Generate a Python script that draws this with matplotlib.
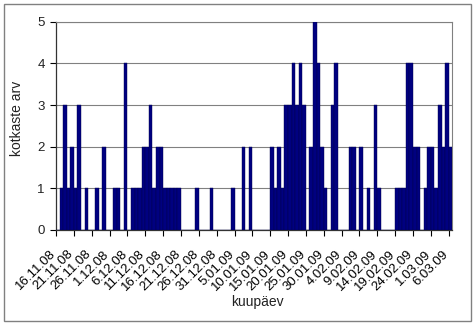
import numpy as np
import matplotlib
matplotlib.use('Agg')
import matplotlib.pyplot as plt
import matplotlib.transforms as mtransforms
from matplotlib.patches import Rectangle

# päevased väärtused 16.11.08 ... 6.03.09 (111 päeva)
counts = [0, 1, 3, 1, 2, 1, 3, 0, 1, 0,
          0, 1, 0, 2, 0, 0, 1, 1, 0, 4,
          0, 1, 1, 1, 2, 2, 3, 1, 2, 2,
          1, 1, 1, 1, 1, 0, 0, 0, 0, 1,
          0, 0, 0, 1, 0, 0, 0, 0, 0, 1,
          0, 0, 2, 0, 2, 0, 0, 0, 0, 0,
          2, 1, 2, 1, 3, 3, 4, 3, 4, 3,
          0, 2, 5, 4, 2, 1, 0, 3, 4, 0,
          0, 0, 2, 2, 0, 2, 0, 1, 0, 3,
          1, 0, 0, 0, 0, 1, 1, 1, 4, 4,
          2, 2, 0, 1, 2, 2, 1, 3, 2, 4,
          2]

tick_labels = ['16.11.08', '21.11.08', '26.11.08', '1.12.08', '6.12.08',
               '11.12.08', '16.12.08', '21.12.08', '26.12.08', '31.12.08',
               '5.01.09', '10.01.09', '15.01.09', '20.01.09', '25.01.09',
               '30.01.09', '4.02.09', '9.02.09', '14.02.09', '19.02.09',
               '24.02.09', '1.03.09', '6.03.09']
label_step = 5

plt.rcParams['font.family'] = ['Liberation Sans', 'DejaVu Sans']

W, H = 475, 324
fig = plt.figure(figsize=(W / 100, H / 100), dpi=100)
ax = fig.add_axes([56 / W, 1 - 230 / H, (452.3 - 56) / W, (230 - 21.7) / H])

x = np.arange(len(counts))
ax.bar(x, counts, width=1.0, color='#000080', edgecolor='#00004a', linewidth=0.3, zorder=3)

ax.set_xlim(-0.5, len(counts) - 0.5)
ax.set_ylim(0, 5)
ax.set_yticks(range(6))
ax.yaxis.grid(True, color='#808080', linewidth=0.8, zorder=0)

# tikid kategooriate vahel, sildid kategooria keskel
ax.set_xticks(np.arange(0, len(counts), label_step) - 0.5)
ax.set_xticklabels([])
ax.set_xticks(np.arange(0, len(counts), label_step), minor=True)
ax.set_xticklabels(tick_labels, minor=True, rotation=45, ha='right', va='center',
                   rotation_mode='anchor', fontsize=9.5)
ax.tick_params(axis='x', which='major', direction='out', length=4, width=0.8)
ax.tick_params(axis='x', which='minor', length=0, pad=16)
offset = mtransforms.ScaledTranslation(-4 / 100, 0, fig.dpi_scale_trans)
for lbl in ax.xaxis.get_minorticklabels():
    lbl.set_transform(lbl.get_transform() + offset)

ax.tick_params(axis='y', direction='out', length=4, width=0.8, labelsize=9.5, pad=4,
               labelcolor='#222222')

for s in ['left', 'bottom']:
    ax.spines[s].set_color('#333333')
    ax.spines[s].set_linewidth(0.9)
for s in ['top', 'right']:
    ax.spines[s].set_color('#808080')
    ax.spines[s].set_linewidth(0.8)

fig.text(17 / W, 1 - 118 / H, 'kotkaste arv', rotation=90, ha='center', va='center',
         fontsize=10, color='#222222')
fig.text(257 / W, 1 - 302 / H, 'kuupäev', ha='center', va='center',
         fontsize=10, color='#222222')

fig.patches.append(Rectangle((4 / W, 1 - 321 / H), 467 / W, 317 / H,
                             transform=fig.transFigure, fill=False,
                             edgecolor='#808080', linewidth=1.0))

fig.savefig('out.png', dpi=100)
